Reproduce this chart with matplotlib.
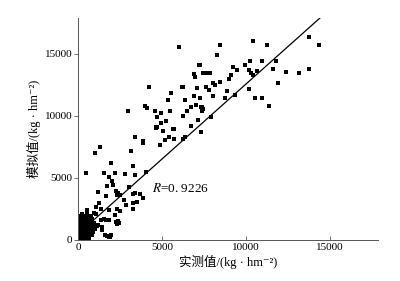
import matplotlib
matplotlib.use("Agg")
import matplotlib.pyplot as plt

plt.rcParams['font.family'] = ['Liberation Serif', 'Noto Sans CJK SC', 'DejaVu Sans']
plt.rcParams['mathtext.fontset'] = 'stix'
plt.rcParams['axes.unicode_minus'] = False

# measured (x) vs simulated (y), kg/hm2
obs_x = [13770, 14360, 10440, 11270, 8450, 8250, 7260, 10240, 10950, 11790,
         9920, 9200, 9480, 11590, 10200, 10280, 10670, 10440, 12380, 13140,
         13770, 7460, 7660, 7860, 9090, 8970, 8450, 8050, 8130, 7620,
         7820, 11900, 10200, 8850, 8050, 9330, 8770, 7260, 10550, 10950,
         11350, 7340, 7420, 7930, 7340,
         5990, 7220, 6900, 6950, 6270, 6200, 5550, 7100, 4210, 6900,
         6350, 5360, 7020, 6710, 7380, 4010, 4130, 2980, 4600, 5480,
         4920, 6510, 6230, 7380, 4720, 5240, 4920, 4640, 4700, 4640,
         7140, 5040, 5640, 5700, 6710, 3410, 3890, 3850, 5400, 5200,
         5710, 6270, 6350, 4880, 1310, 990, 3170,
         1940, 3290, 480, 1550, 2180, 2780, 3370, 4050, 1830, 2020,
         1750, 2100, 2260, 2380, 2500, 2300, 3410, 3020, 1190, 1670,
         3290, 3890, 3290, 2740, 2860, 2300, 2500, 1270, 1070, 1350,
         550, 950, 1070, 1830, 2180, 1350, 1550, 1670, 1860, 2260,
         2300, 1190, 1430, 1430, 1590, 1750, 1860, 1980, 3690, 3490,
         3250, 2380, 2450, 1900,
         50, 160, 260, 340, 460, 540, 640,
         110, 190, 310, 420, 490, 610, 700, 860,
         40, 150, 240, 360, 440, 560, 660, 760, 910,
         90, 210, 290, 410, 510, 590, 720, 810, 1010,
         60, 140, 260, 340, 460, 540, 660, 740, 890, 1110,
         110, 190, 320, 490, 610, 690, 820, 960,
         30, 160, 290, 440, 560, 640, 760, 860,
         110, 240, 410, 590, 760, 210, 520, 0, 20, 10]
sim_y = [16350, 15700, 16070, 15700, 15700, 14900, 14140, 14460, 14410, 14410,
         14140, 13980, 13710, 13820, 13710, 13490, 13660, 13330, 13550, 13440,
         13820, 13440, 13440, 13440, 13330, 13010, 12740, 12640, 12470, 12360,
         12100, 12640, 12210, 12040, 11610, 11720, 11450, 11450, 11450, 11450,
         10810, 10700, 10540, 9890, 8710,
         15540, 14140, 13390, 13170, 12360, 12360, 11830, 12260, 12360, 11610,
         11290, 11290, 10860, 10750, 10700, 10810, 10650, 10380, 10430, 10380,
         10220, 10380, 10000, 10430, 9890, 9620, 9460, 9140, 9140, 9030,
         9680, 8820, 8930, 8930, 9190, 8280, 8010, 7800, 8340, 8070,
         8120, 8170, 8280, 7640, 7480, 7040, 7200,
         6240, 5970, 5430, 5380, 5380, 5320, 5270, 5480, 5050, 4730,
         4360, 4410, 3930, 3760, 3650, 3650, 3820, 4250, 3870, 3550,
         3710, 3390, 3010, 3230, 2800, 2470, 2360, 2960, 2690, 2470,
         2420, 2200, 2100, 2420, 1990, 1610, 1670, 1610, 1610, 1450,
         1290, 1180, 1070, 810, 430, 320, 220, 380, 3710, 3060,
         2520, 1500, 1350, 270,
         140, 170, 120, 160, 150, 130, 170,
         420, 390, 410, 380, 430, 400, 370, 410,
         640, 670, 630, 660, 650, 620, 670, 640, 660,
         900, 880, 920, 910, 870, 930, 890, 910, 880,
         1150, 1130, 1170, 1140, 1160, 1120, 1150, 1170, 1130, 1150,
         1400, 1420, 1380, 1410, 1390, 1420, 1400, 1380,
         1650, 1630, 1670, 1640, 1660, 1650, 1630, 1670,
         1900, 1880, 1920, 1890, 1910, 2100, 2120, 1500, 1000, 600]

fit_slope = 1.21
fit_intercept = 480
fit_xmax = 14400
r_label = "0. 9226"

fig = plt.figure(figsize=(4.0, 2.81), dpi=100)
ax = fig.add_axes([0.195, 0.146, 0.75, 0.79])

ax.scatter(obs_x, sim_y, marker='s', s=5, c='black', linewidths=0)
ax.plot([0, fit_xmax], [fit_intercept, fit_intercept + fit_slope * fit_xmax],
        color='black', lw=0.9)

ax.set_xlim(0, 17850)
ax.set_ylim(0, 17900)
ax.set_xticks([0, 5000, 10000, 15000])
ax.set_yticks([0, 5000, 10000, 15000])
for s in ['top', 'right']:
    ax.spines[s].set_visible(False)
for s in ['left', 'bottom']:
    ax.spines[s].set_color('#555555')
    ax.spines[s].set_linewidth(0.7)
ax.tick_params(axis='x', direction='in', length=3, width=0.6, labelsize=8, pad=2, color='#555555')
ax.tick_params(axis='y', direction='out', length=3, width=0.6, labelsize=8, pad=1, color='#555555')

ax.text(4400, 4190, r"$R$=" + r_label, fontsize=9.5, ha='left', va='center')
ax.set_xlabel("实测值/(kg · hm⁻²)", fontsize=9, labelpad=2)
ax.set_ylabel("模拟值/(kg · hm⁻²)", fontsize=9, labelpad=3)

fig.savefig("out.png", dpi=100)
